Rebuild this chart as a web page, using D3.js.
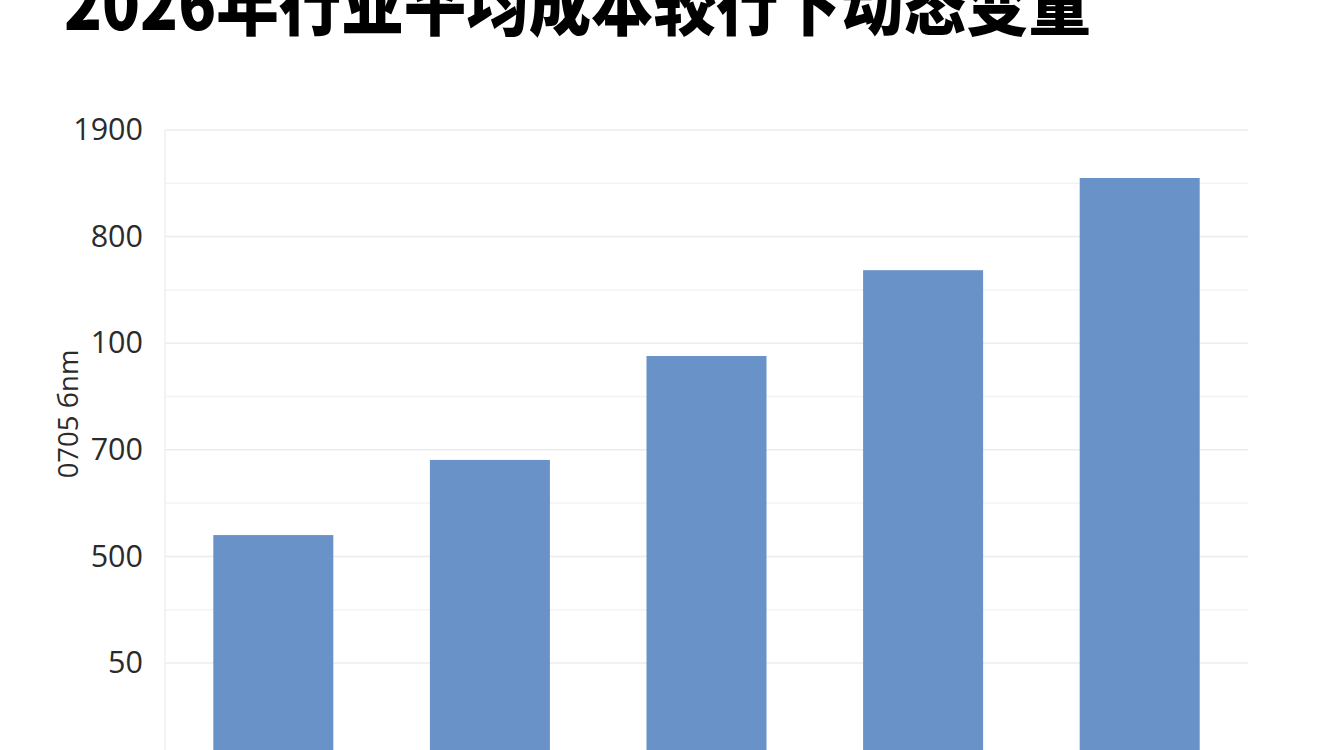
<!DOCTYPE html>
<html>
<head>
<meta charset="utf-8">
<script src="https://cdn.jsdelivr.net/npm/d3@7"></script>
<style>
  html, body { margin: 0; padding: 0; background: #fff; overflow: hidden; }
  svg { display: block; }
</style>
</head>
<body>
<div id="chart"></div>
<script>
// chart data
var titleText = "2026年行业平均成本较行下动态变量";
var yTitle = "0705 бnm";
var categories = ["1", "2", "3", "4", "5"];
var values = [440, 581, 776, 937, 1110];
var tickValues = [200, 400, 600, 800, 1000, 1200];
var tickLabels = ["50", "500", "700", "100", "800", "1900"];
var minorTicks = [300, 500, 700, 900, 1100];

var width = 1344, height = 750;

var svg = d3.select("#chart")
  .append("svg")
  .attr("width", width)
  .attr("height", height);

var x = d3.scaleBand()
  .domain(categories)
  .range([165, 1248])
  .paddingInner(0.446)
  .paddingOuter(0.223);

var y = d3.scaleLinear()
  .domain([0, 1200])
  .range([769.6, 130]);

// minor grid
svg.append("g")
  .selectAll("line")
  .data(minorTicks)
  .enter()
  .append("line")
  .attr("x1", 165)
  .attr("x2", 1248)
  .attr("y1", d => y(d))
  .attr("y2", d => y(d))
  .attr("stroke", "#f3f3f3")
  .attr("stroke-width", 1.5);

// major grid
svg.append("g")
  .selectAll("line")
  .data(tickValues)
  .enter()
  .append("line")
  .attr("x1", 165)
  .attr("x2", 1248)
  .attr("y1", d => y(d))
  .attr("y2", d => y(d))
  .attr("stroke", "#ececec")
  .attr("stroke-width", 1.5);

// left frame line
svg.append("line")
  .attr("x1", 165).attr("x2", 165)
  .attr("y1", y(1200)).attr("y2", height)
  .attr("stroke", "#efefef")
  .attr("stroke-width", 1.5);

// y axis labels
var yAxis = d3.axisLeft(y)
  .tickValues(tickValues)
  .tickFormat((d, i) => tickLabels[i])
  .tickSize(0)
  .tickPadding(0);

var ga = svg.append("g")
  .attr("transform", "translate(143,0)")
  .call(yAxis);
ga.select(".domain").remove();
ga.selectAll("text")
  .attr("font-family", "'Open Sans', sans-serif")
  .attr("font-size", 30.5)
  .attr("fill", "#2b2b2b");

// bars
svg.append("g")
  .selectAll("rect")
  .data(values)
  .enter()
  .append("rect")
  .attr("x", (d, i) => x(categories[i]))
  .attr("width", x.bandwidth())
  .attr("y", d => y(d))
  .attr("height", d => y(0) - y(d))
  .attr("fill", "#6892c8");

// y title
svg.append("text")
  .attr("transform", "translate(78,414) rotate(-90)")
  .attr("text-anchor", "middle")
  .attr("font-family", "'Open Sans', sans-serif")
  .attr("font-size", 27.5)
  .attr("fill", "#2b2b2b")
  .text(yTitle);

// title, cut at the top edge like the source
svg.append("text")
  .attr("x", 64)
  .attr("y", 30)
  .attr("font-family", "'Noto Sans CJK SC', sans-serif")
  .attr("font-weight", 900)
  .attr("font-size", 70)
  .attr("textLength", 1027)
  .attr("lengthAdjust", "spacingAndGlyphs")
  .attr("fill", "#000")
  .text(titleText);
</script>
</body>
</html>
